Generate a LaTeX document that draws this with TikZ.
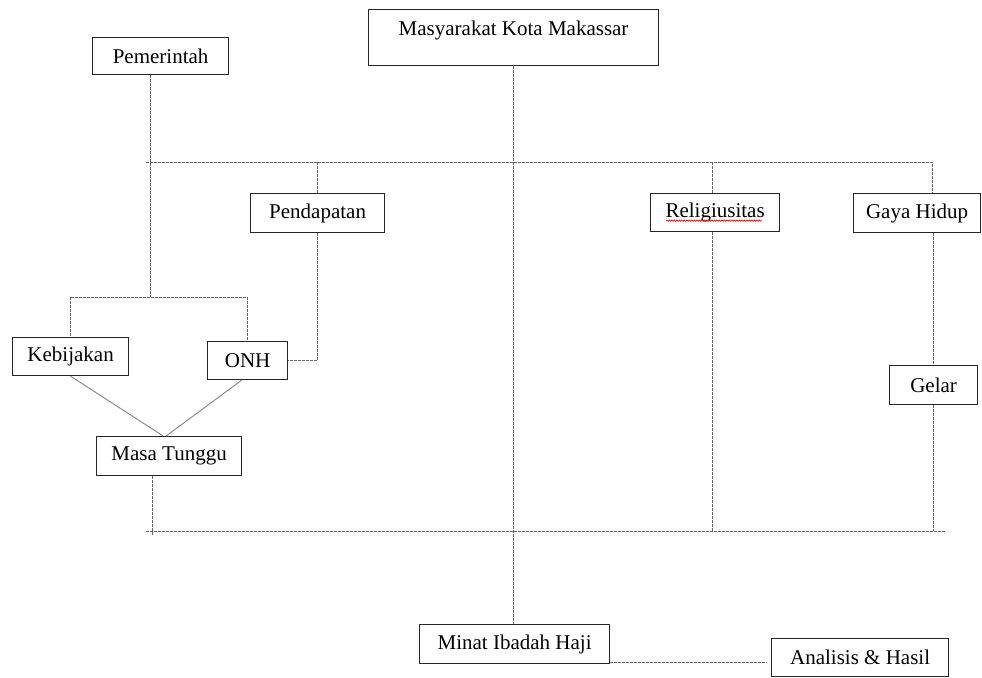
\documentclass[tikz,border=0pt]{standalone}
\usepackage{fontspec}
\setmainfont{Liberation Serif}
\usetikzlibrary{decorations.pathmorphing}
\begin{document}
\begin{tikzpicture}[x=1pt,y=-1pt,
  box/.style={draw=black!85, line width=1.2pt, anchor=north west, inner sep=0pt,
    font=\fontsize{21}{25}\selectfont},
  link/.style={draw=black!60, line width=0.8pt, dash pattern=on 3pt off 1pt},
  diag/.style={draw=black!45, line width=1pt}]
\useasboundingbox (0,0) rectangle (982,677);

% boxes
\node[box, minimum width=136, minimum height=37] (pem) at (92,37) {Pemerintah};
\node[box, minimum width=290, minimum height=56, text height=20, text depth=24] (mkm) at (368,9) {Masyarakat Kota Makassar};
\node[box, minimum width=134, minimum height=39] (pend) at (250,193) {Pendapatan};
\node[box, minimum width=129, minimum height=38] (rel) at (650,193) {Religiusitas};
\node[box, minimum width=127, minimum height=39] (gh) at (853,193) {Gaya Hidup};
\node[box, minimum width=116, minimum height=38] (kb) at (12,337) {Kebijakan};
\node[box, minimum width=80, minimum height=38] (onh) at (207,341) {ONH};
\node[box, minimum width=88, minimum height=39] (gel) at (889,365) {Gelar};
\node[box, minimum width=145, minimum height=39] (mt) at (96,436) {Masa Tunggu};
\node[box, minimum width=190, minimum height=39] (minat) at (419,624) {Minat Ibadah Haji};
\node[box, minimum width=177, minimum height=38] (ana) at (771,638) {Analisis \& Hasil};

% spell-check underline
\draw[red, line width=0.6pt, decorate, decoration={snake, amplitude=0.7pt, segment length=2.5pt}]
  ([xshift=-49pt,yshift=-3pt]rel.base) -- ([xshift=47pt,yshift=-3pt]rel.base);

% junction coordinates
\coordinate (topL) at (146,162);
\coordinate (topR) at (932,162);
\coordinate (botL) at (146,531);
\coordinate (botR) at (946,531);
\coordinate (pj) at (150,297);
\coordinate (mtd) at (152,535);
\coordinate (relx) at (712,0);

% top distribution line
\draw[link] (pj |- pem.south) -- (pj);
\draw[link] (topL) -- (topR) -- (topR |- gh.north);
\draw[link] (pend.north |- topL) -- (pend.north);
\draw[link] (relx |- topL) -- (relx |- rel.north);
\draw[link] (mkm.south) -- (mkm.south |- minat.north);

% Pemerintah branch
\draw[link] (kb.north |- pj) -- (onh.north |- pj);
\draw[link] (kb.north |- pj) -- (kb.north);
\draw[link] (onh.north |- pj) -- (onh.north);
\draw[link] (pend.south) -- (pend.south |- onh.east) -- (onh.east);

% diagonals to Masa Tunggu
\draw[diag] (kb.south) -- ([xshift=-6pt]mt.north);
\draw[diag] ([xshift=-6pt]onh.south) -- ([xshift=-3pt]mt.north);

% right branch
\draw[link] (gh.south -| gel.north) -- (gel.north);
\draw[link] (gel.south) -- (gel.south |- botL);
\draw[link] (relx |- rel.south) -- (relx |- botL);

% bottom line
\draw[link] (botL) -- (botR);
\draw[link] (mtd |- mt.south) -- (mtd);

% result
\coordinate (mr) at ([yshift=2pt]minat.south east);
\draw[link] (mr) -- ([xshift=-4pt]mr -| ana.west);
\end{tikzpicture}
\end{document}
